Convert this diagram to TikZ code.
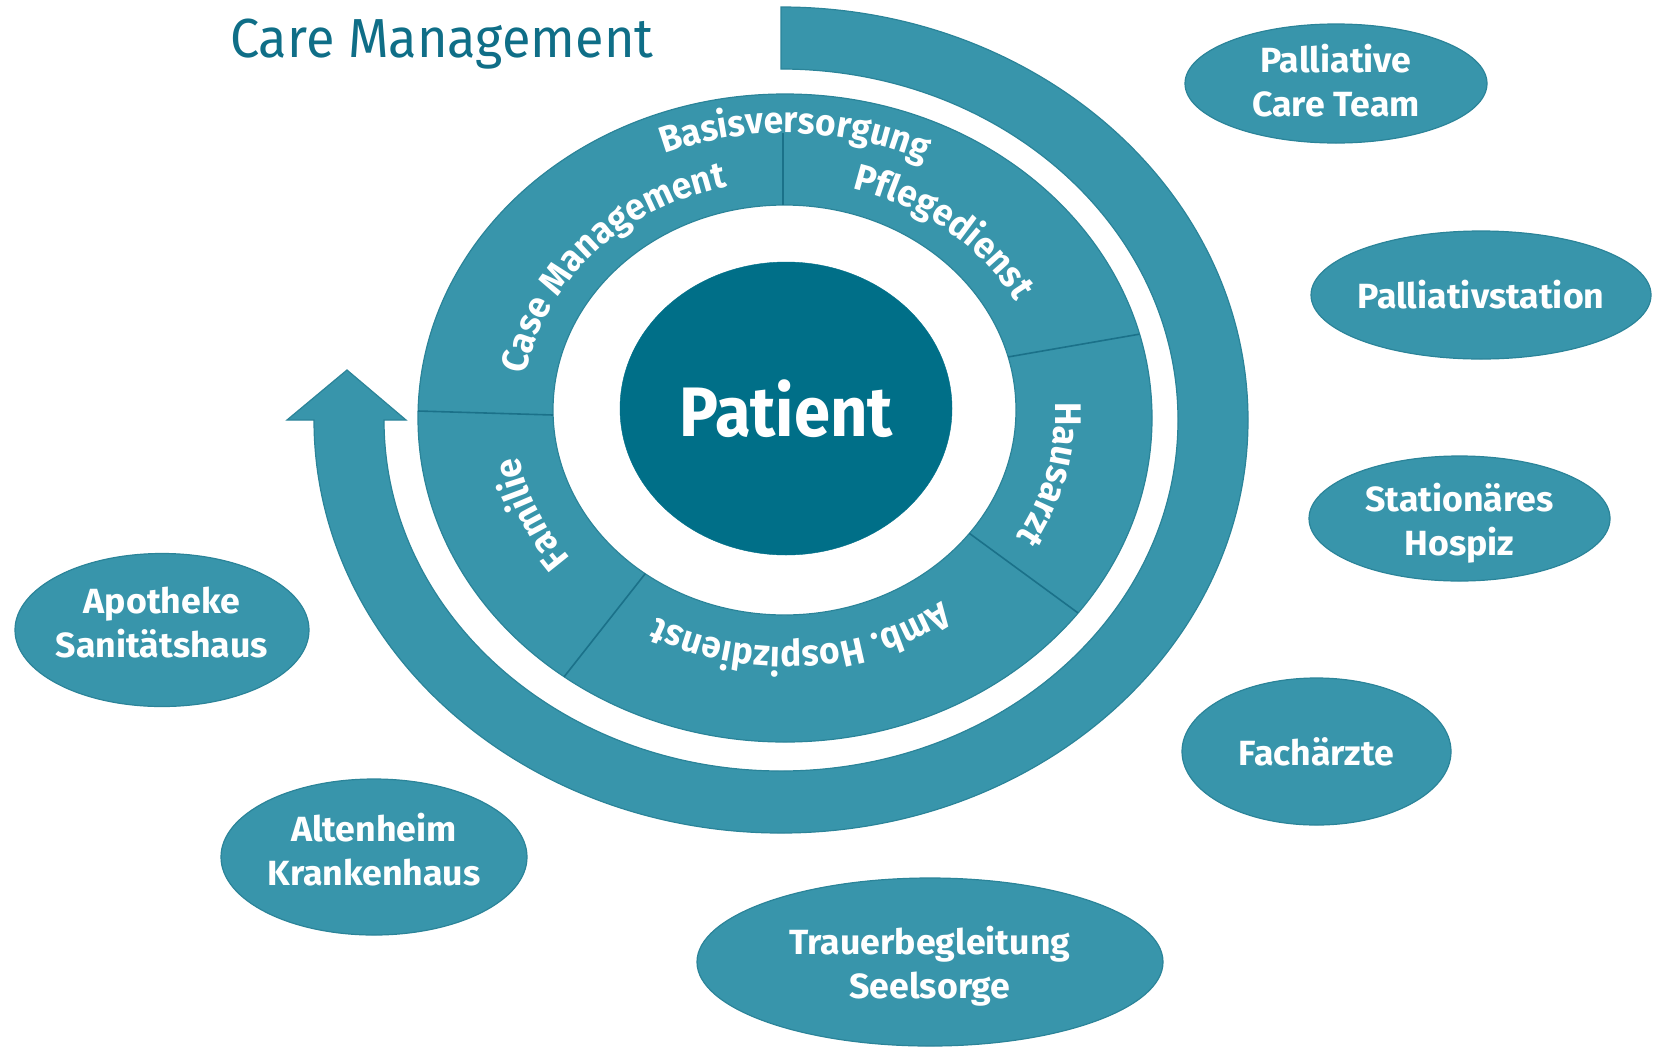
\documentclass[tikz,border=0pt]{standalone}
\usepackage{fontspec}
\setmainfont{Fira Sans}[FakeStretch=0.95]
\newfontfamily\satfont{Fira Sans}[FakeStretch=1.02]
\newfontfamily\patfont{Fira Sans}[FakeStretch=0.93]
\usetikzlibrary{shapes.geometric,decorations.text}
\definecolor{ring}{HTML}{3895AB}
\definecolor{core}{HTML}{006F88}
\definecolor{edge}{HTML}{2B8499}
\definecolor{sepc}{HTML}{1B7189}
\definecolor{titlec}{HTML}{0F6E87}
\tikzset{
  sat/.style={ellipse, fill=ring, draw=edge, line width=1.2pt, text=white,
    font=\satfont\fontsize{35}{44}\selectfont\bfseries, align=center,
    inner xsep=-30pt, inner ysep=-10pt, outer sep=0pt},
  septline/.style={draw=sepc, line width=1.6pt},
  ringlabel/.style={decorate, decoration={text along path, text align=center,
    text color=white, text={#1}}}
}
\newcommand{\rl}{|\fontsize{37}{37}\selectfont\bfseries|}
\newcommand{\liftlines}[2]{\raisebox{#1}[\height][\depth]{\begin{tabular}{@{}c@{}}#2\end{tabular}}}
\begin{document}
\begin{tikzpicture}[x=1pt,y=-1pt]
\useasboundingbox (0,0) rectangle (1653,1047);
% title
\node[anchor=base west, inner sep=0pt, text=titlec, font=\fontsize{55}{60}\selectfont] (title) at (230,57) {Care Management};
% big arrow ring
\filldraw[fill=ring, draw=edge, line width=1.2pt]
  (781,7) arc[start angle=90, end angle=-180, x radius=467pt, y radius=413pt]
  -- (287,420) -- (347,370) -- (406,420) -- (384,420)
  arc[start angle=180, end angle=450, x radius=397pt, y radius=351pt] -- cycle;
% inner ring
\filldraw[fill=ring, draw=edge, line width=1.2pt] (785,418) ellipse[x radius=367pt, y radius=324pt];
\filldraw[fill=white, draw=edge, line width=1.2pt] (784.5,410) ellipse[x radius=231.5pt, y radius=205pt];
% separators
\draw[septline] (783,205) -- (783,133);
\draw[septline] (418,411) -- (553,415);
\draw[septline] ({784.5+231.5*cos(15)},{410-205*sin(15)}) -- ({785+367*cos(15)},{418-324*sin(15)});
\draw[septline] ({784.5+231.5*cos(-37)},{410-205*sin(-37)}) -- ({785+367*cos(-37)},{418-324*sin(-37)});
\draw[septline] ({784.5+231.5*cos(-127)},{410-205*sin(-127)}) -- ({785+367*cos(-127)},{418-324*sin(-127)});
% ring labels
\path[ringlabel={\rl Basisversorgung}] ({785+318*cos(148)},{414-281*sin(148)}) arc[start angle=148, end angle=28, x radius=318pt, y radius=281pt];
\path[ringlabel={\rl Case Management}] ({785+263*cos(198)},{414-233*sin(198)}) arc[start angle=198, end angle=78, x radius=263pt, y radius=233pt];
\path[ringlabel={\rl Pflegedienst}] ({785+263*cos(110)},{414-233*sin(110)}) arc[start angle=110, end angle=-10, x radius=263pt, y radius=233pt];
\path[ringlabel={\rl Hausarzt}] ({785+270*cos(47)},{414-239*sin(47)}) arc[start angle=47, end angle=-73, x radius=270pt, y radius=239pt];
\path[ringlabel={\rl Amb. Hospizdienst}] ({785+263*cos(-26)},{414-233*sin(-26)}) arc[start angle=-26, end angle=-146, x radius=263pt, y radius=233pt];
\path[ringlabel={\rl Familie}] ({785+270*cos(-98)},{414-239*sin(-98)}) arc[start angle=-98, end angle=-218, x radius=270pt, y radius=239pt];
% patient
\node[ellipse, fill=core, draw=core, minimum width=332pt, minimum height=293pt, inner sep=0pt, text=white, font=\patfont\fontsize{70}{70}\selectfont\bfseries] (patient) at (786,408.5) {Patient};
% satellites
\node[sat, minimum width=302pt, minimum height=119pt] (pct) at (1336,83.5) {\liftlines{-2pt}{Palliative\\Care Team}};
\node[sat, minimum width=340pt, minimum height=128pt] (pst) at (1481,295) {Palliativstation};
\node[sat, minimum width=301pt, minimum height=125pt] (hos) at (1459.5,518.5) {\liftlines{-6pt}{Stationäres\\Hospiz}};
\node[sat, minimum width=269pt, minimum height=147pt] (fach) at (1316.5,751.5) {Fachärzte};
\node[sat, minimum width=466pt, minimum height=168pt] (trauer) at (930,962) {\liftlines{-6pt}{Trauerbegleitung\\Seelsorge}};
\node[sat, minimum width=306pt, minimum height=156pt] (alt) at (374,857) {\liftlines{2pt}{Altenheim\\Krankenhaus}};
\node[sat, minimum width=294pt, minimum height=153pt] (apo) at (162,630) {\liftlines{3pt}{Apotheke\\Sanitätshaus}};
\end{tikzpicture}
\end{document}
